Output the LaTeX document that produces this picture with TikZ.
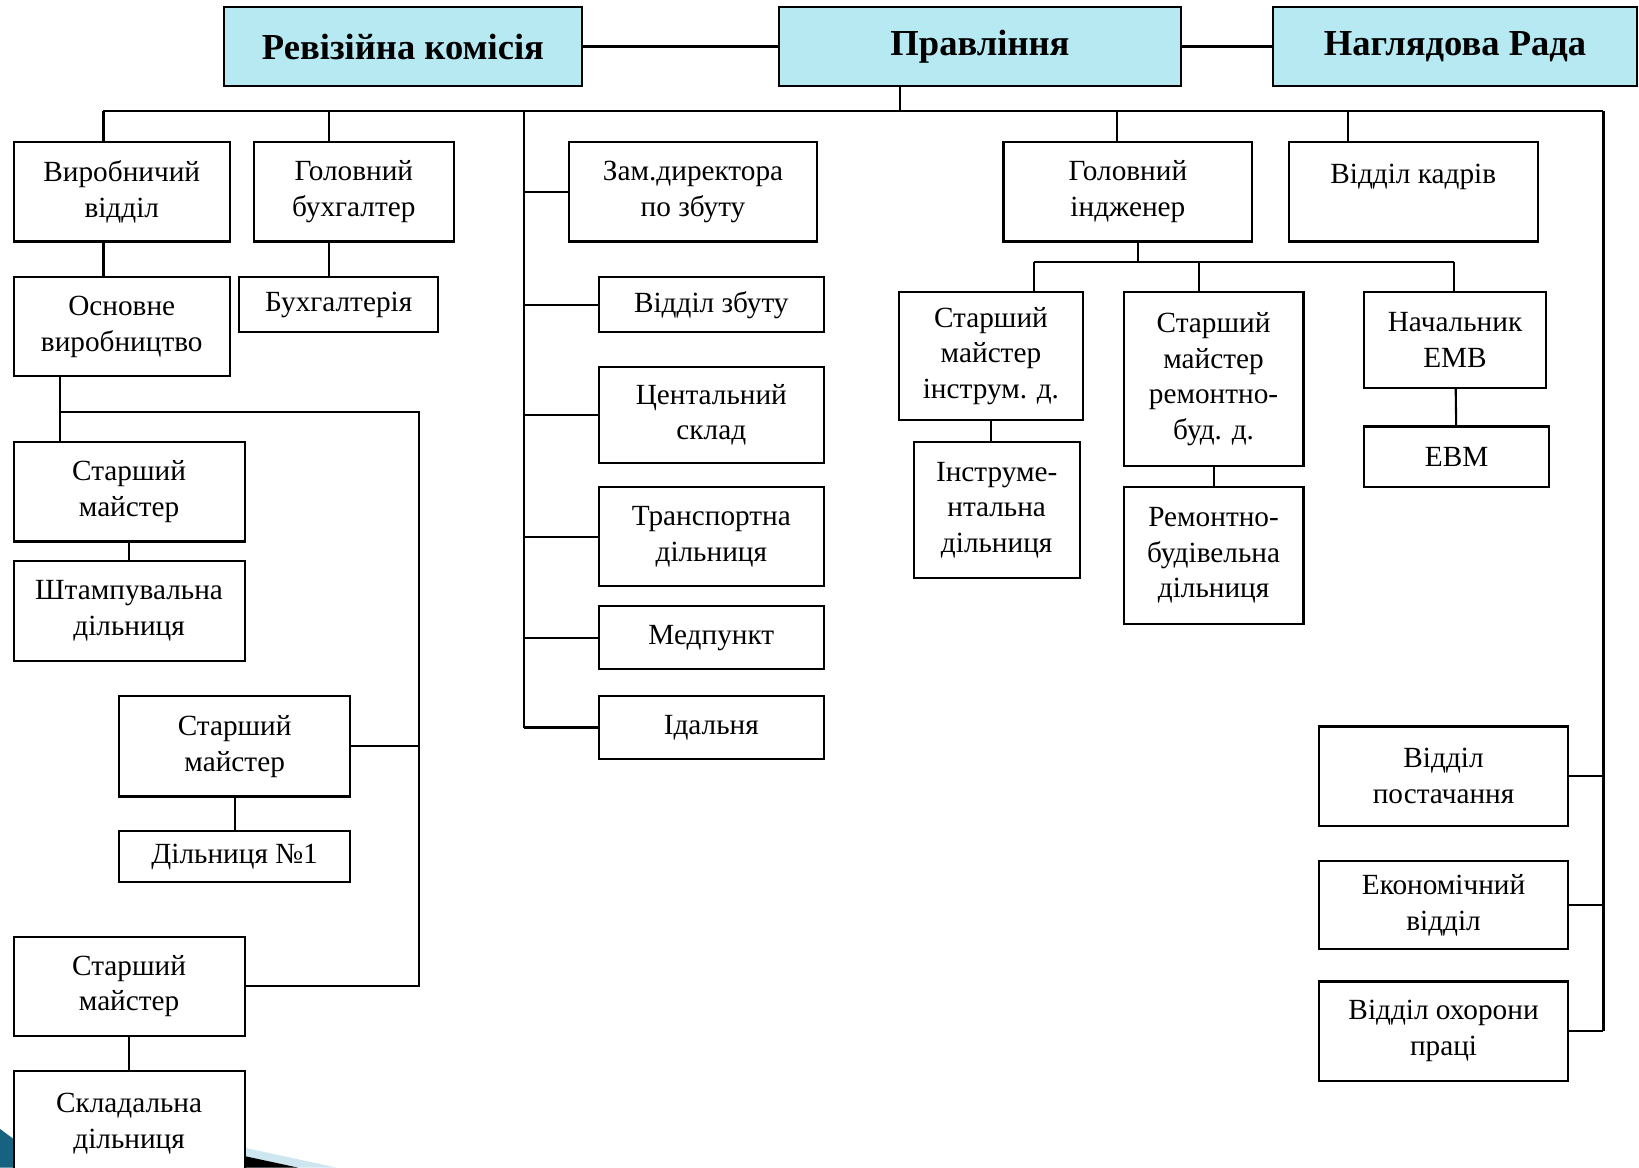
\documentclass[tikz,border=0pt]{standalone}
\usepackage{fontspec}
\setmainfont{Liberation Serif}
\usepackage{tikz}

\definecolor{headfill}{RGB}{183,233,242}
\definecolor{slideteal}{RGB}{22,98,128}
\definecolor{slidelight}{RGB}{205,230,240}

\begin{document}
\begin{tikzpicture}[x=1pt, y=-1pt,
	unit/.style={shape=rectangle, draw=black, line width=2pt, fill=white, align=center, inner sep=2pt, font=\fontsize{28}{34}\selectfont},
	head/.style={unit, fill=headfill, font=\fontsize{35}{40}\selectfont\bfseries},
	link/.style={-, line width=2pt}]
	
	\useasboundingbox (0,0) rectangle (1568,1117);
	\clip (0,0) rectangle (1568,1117);
	
	\fill[slideteal] (0,1080) .. controls (20,1095) .. (60,1117) -- (0,1117) -- cycle;
	\fill[slidelight] (234,1098) -- (322,1117) -- (234,1117) -- cycle;
	\fill[black] (234,1106) -- (285,1117) -- (234,1117) -- cycle;
	
	\node[head, minimum width=343, minimum height=75] (rev) at (385.5, 44.5) {Ревізійна комісія};
	\node[head, minimum width=385, minimum height=75] (prav) at (937.5, 44.5) {Правління};
	\node[head, minimum width=348, minimum height=75] (nagl) at (1392, 44.5) {Наглядова Рада};
	
	\node[unit, minimum width=207, minimum height=95] (vyr) at (116.5, 183.5) {Виробничий\\відділ};
	\node[unit, minimum width=191, minimum height=95] (gb) at (338.5, 183.5) {Головний\\бухгалтер};
	\node[unit, minimum width=238, minimum height=95] (zam) at (663, 183.5) {Зам.директора\\по збуту};
	\node[unit, minimum width=238, minimum height=95] (gi) at (1079, 183.5) {Головний\\індженер};
	\node[unit, minimum width=238, minimum height=95] (vk) at (1352, 183.5) {Відділ кадрів\\~};
	
	\node[unit, minimum width=207, minimum height=95] (osn) at (116.5, 312.5) {Основне\\виробництво};
	\node[unit, minimum width=190, minimum height=53] (buh) at (324, 291.5) {Бухгалтерія};
	
	\node[unit, minimum width=215, minimum height=53] (vz) at (680.5, 291.5) {Відділ збуту};
	\node[unit, minimum width=215, minimum height=92] (cs) at (680.5, 397) {Центальний\\склад};
	\node[unit, minimum width=215, minimum height=95] (tr) at (680.5, 513.5) {Транспортна\\дільниця};
	\node[unit, minimum width=215, minimum height=60] (med) at (680.5, 610) {Медпункт};
	\node[unit, minimum width=215, minimum height=60] (id) at (680.5, 696) {Ідальня};
	
	\node[unit, minimum width=176, minimum height=123] (smi) at (948, 340.5) {Старший\\майстер\\інструм. д.};
	\node[unit, minimum width=172, minimum height=167] (smr) at (1161, 362.5) {Старший\\майстер\\ремонтно-\\буд. д.};
	\node[unit, minimum width=174, minimum height=92] (nemv) at (1392, 325) {Начальник\\ЕМВ};
	\node[unit, minimum width=159, minimum height=130] (inst) at (953.5, 488) {Інструме-\\нтальна\\дільниця};
	\node[unit, minimum width=172, minimum height=131] (rbd) at (1161, 531.5) {Ремонтно-\\будівельна\\дільниця};
	\node[unit, minimum width=177, minimum height=58] (evm) at (1393.5, 437) {ЕВМ};
	
	\node[unit, minimum width=238, minimum height=95] (vp) at (1381, 742.5) {Відділ\\постачання};
	\node[unit, minimum width=238, minimum height=84] (ek) at (1381, 866) {Економічний\\відділ};
	\node[unit, minimum width=238, minimum height=95] (voh) at (1381, 986.5) {Відділ охорони\\праці};
	
	\node[unit, minimum width=221, minimum height=95] (sm1) at (123.5, 470.5) {Старший\\майстер};
	\node[unit, minimum width=221, minimum height=95] (shd) at (123.5, 584.5) {Штампувальна\\дільниця};
	\node[unit, minimum width=221, minimum height=96] (sm2) at (224.5, 714) {Старший\\майстер};
	\node[unit, minimum width=221, minimum height=49] (d1) at (224.5, 819.5) {Дільниця №1};
	\node[unit, minimum width=221, minimum height=95] (sm3) at (123.5, 943.5) {Старший\\майстер};
	\node[unit, minimum width=221, minimum height=100] (skd) at (123.5, 1075) {Складальна\\дільниця};
	
	\coordinate (pd) at (861, 106);
	\coordinate (b1) at (99, 106);
	\coordinate (b2) at (315, 106);
	\coordinate (sp) at (501, 106);
	\coordinate (b4) at (1069, 106);
	\coordinate (b5) at (1290, 106);
	\coordinate (rs) at (1534, 106);
	\coordinate (e1) at (989, 251);
	\coordinate (e2) at (1147, 251);
	\coordinate (e0) at (1089, 251);
	\coordinate (e3) at (1391, 251);
	\coordinate (l1) at (57, 394);
	\coordinate (l2) at (401, 394);
	
	\path[link] (rev) edge (prav);
	\path[link] (prav) edge (nagl);
	\draw[link] (pd |- prav.south) -- (pd);
	\draw[link] (b1) -- (rs);
	
	\draw[link] (b1) -- (b1 |- vyr.north);
	\draw[link] (b2) -- (b2 |- gb.north);
	\draw[link] (b4) -- (b4 |- gi.north);
	\draw[link] (b5) -- (b5 |- vk.north);
	\draw[link] (vyr.south -| b1) -- (osn.north -| b1);
	\draw[link] (gb.south -| b2) -- (buh.north -| b2);
	
	\draw[link] (sp) -- (sp |- id.west);
	\draw[link] (sp |- zam.west) -- (zam.west);
	\draw[link] (sp |- vz.west) -- (vz.west);
	\draw[link] (sp |- cs.west) -- (cs.west);
	\draw[link] (sp |- tr.west) -- (tr.west);
	\draw[link] (sp |- med.west) -- (med.west);
	\draw[link] (sp |- id.west) -- (id.west);
	
	\draw[link] (e0 |- gi.south) -- (e0);
	\draw[link] (e1) -- (e3);
	\draw[link] (e1) -- (e1 |- smi.north);
	\draw[link] (e2) -- (e2 |- smr.north);
	\draw[link] (e3) -- (e3 |- nemv.north);
	\draw[link] (smi.south) -- (smi.south |- inst.north);
	\path[link] (smr) edge (rbd);
	\path[link] (nemv) edge (evm);
	
	\draw[link] (rs) -- (rs |- voh.east);
	\draw[link] (vp.east) -- (vp.east -| rs);
	\draw[link] (ek.east) -- (ek.east -| rs);
	\draw[link] (voh.east) -- (voh.east -| rs);
	
	\draw[link] (osn.south -| l1) -- (sm1.north -| l1);
	\draw[link] (l1) -- (l2) -- (l2 |- sm3.east) -- (sm3.east);
	\draw[link] (sm2.east) -- (sm2.east -| l2);
	\path[link] (sm1) edge (shd);
	\path[link] (sm2) edge (d1);
	\path[link] (sm3) edge (skd);
	
\end{tikzpicture}
\end{document}
